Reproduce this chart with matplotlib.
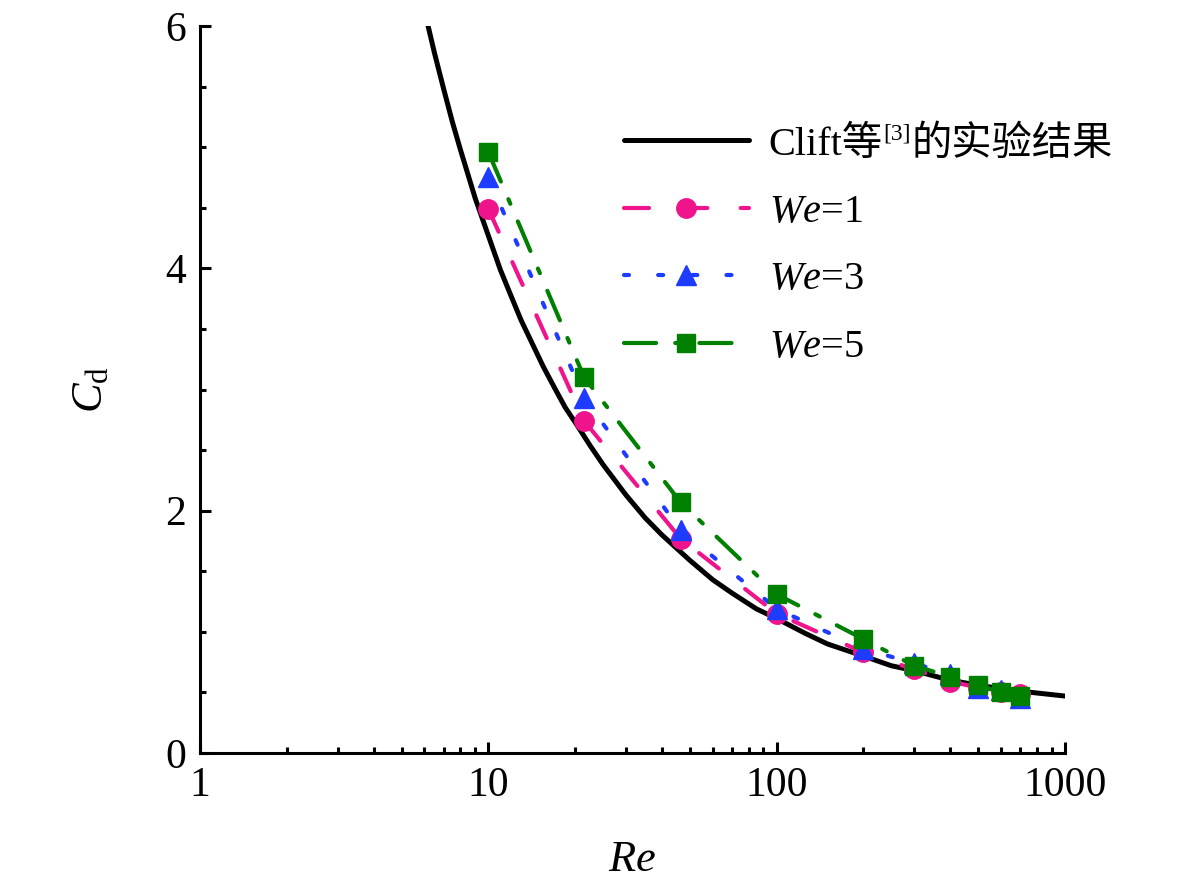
import matplotlib
matplotlib.use("Agg")
import matplotlib.pyplot as plt
from matplotlib.ticker import FixedLocator, NullFormatter, MultipleLocator
from matplotlib.lines import Line2D

# ---- data ----
re_clift = [6.0, 6.5, 7, 7.5, 8, 9, 10, 11, 12, 13, 14, 15.5, 17, 18.5, 20, 22.5, 25, 30, 35, 40,
            50, 60, 70, 85, 100, 125, 150, 200, 250, 300, 400, 500, 600, 700, 1000]
cd_clift = [6.13, 5.78, 5.48, 5.21, 4.98, 4.58, 4.27, 3.99, 3.77, 3.57, 3.41, 3.19, 3.01, 2.85, 2.73,
            2.54, 2.38, 2.13, 1.94, 1.80, 1.59, 1.43, 1.32, 1.19, 1.11, 0.99, 0.90, 0.80, 0.72, 0.68,
            0.60, 0.56, 0.53, 0.51, 0.47]

re_sim = [10, 21.5, 46.4, 100, 200, 300, 400, 500, 600, 700]
cd_we1 = [4.49, 2.74, 1.77, 1.15, 0.83, 0.69, 0.59, 0.54, 0.50, 0.49]
cd_we3 = [4.75, 2.93, 1.84, 1.19, 0.86, 0.74, 0.65, 0.54, 0.52, 0.45]
cd_we5 = [4.96, 3.10, 2.07, 1.31, 0.94, 0.72, 0.63, 0.56, 0.50, 0.47]

x_ticks = [1, 10, 100, 1000]
x_ticklabels = ["1", "10", "100", "1000"]
y_ticks = [0, 2, 4, 6]

FAM = ["Liberation Serif", "Noto Sans CJK SC"]
plt.rcParams["font.family"] = FAM
plt.rcParams["mathtext.fontset"] = "custom"
plt.rcParams["mathtext.rm"] = "Liberation Serif"
plt.rcParams["mathtext.it"] = "Liberation Serif:italic"

PINK, BLUE, GREEN = "#f0148c", "#1e3cff", "#008000"
LS1, LS3, LS5 = (0, (6, 8)), (0, (1.2, 7)), (0, (7.7, 4.6, 1.2, 4.6))

fig = plt.figure(figsize=(11.81, 8.86), dpi=100)
ax = fig.add_axes([200 / 1181, 133 / 886, 865 / 1181, 727 / 886])

ax.plot(re_clift, cd_clift, color="black", lw=3.6, solid_capstyle="round", solid_joinstyle="round", zorder=2)
ax.plot(re_sim, cd_we1, color=PINK, lw=3, linestyle=LS1, dash_capstyle="round",
        marker="o", markersize=14, zorder=3)
ax.plot(re_sim, cd_we3, color=BLUE, lw=3, linestyle=LS3, dash_capstyle="round",
        marker="^", markersize=15, zorder=4)
ax.plot(re_sim, cd_we5, color=GREEN, lw=3, linestyle=LS5, dash_capstyle="round",
        marker="s", markersize=13, zorder=5)

ax.set_xscale("log")
ax.set_xlim(1, 1000)
ax.set_ylim(0, 6)
ax.xaxis.set_major_locator(FixedLocator(x_ticks))
ax.set_xticklabels(x_ticklabels)
ax.xaxis.set_minor_locator(FixedLocator([m * d for d in (1, 10, 100) for m in range(2, 10)]))
ax.xaxis.set_minor_formatter(NullFormatter())
ax.set_yticks(y_ticks)
ax.yaxis.set_minor_locator(MultipleLocator(0.5))

for s in ("top", "right"):
    ax.spines[s].set_visible(False)
for s in ("left", "bottom"):
    ax.spines[s].set_linewidth(2.2)

ax.tick_params(which="major", direction="in", length=8, width=2.2, labelsize=30, pad=10)
ax.tick_params(which="minor", direction="in", length=4.5, width=2.2)

ax.set_xlabel(r"$\mathit{Re}$", fontsize=32, labelpad=25)
ax.set_ylabel(r"$\mathit{C}_{\mathrm{d}}$", fontsize=32, labelpad=39)

handles = [
    Line2D([], [], color="black", lw=3.6, solid_capstyle="round"),
    Line2D([], [], color=PINK, lw=3, linestyle=LS1, dash_capstyle="round", marker="o", markersize=14),
    Line2D([], [], color=BLUE, lw=3, linestyle=LS3, dash_capstyle="round", marker="^", markersize=15),
    Line2D([], [], color=GREEN, lw=3, linestyle=LS5, dash_capstyle="round", marker="s", markersize=13),
]
labels = ["Clift等", r"$\mathit{We}$=1", r"$\mathit{We}$=3", r"$\mathit{We}$=5"]
leg = ax.legend(handles, labels, loc="upper left", bbox_to_anchor=(0.49, 0.862), frameon=False,
                fontsize=29, handlelength=3.1, handletextpad=0.5, labelspacing=0.75,
                borderaxespad=0, borderpad=0, numpoints=1)

t0 = leg.get_texts()[0]
sup = ax.annotate("[3]", xy=(1, 0.52), xycoords=t0, xytext=(0.5, 0), textcoords="offset points",
                  fontsize=17, va="bottom", ha="left", family=FAM, zorder=10)
ax.annotate("的实验结果", xy=(1, 0), xycoords=(sup, t0), xytext=(0.5, 0), textcoords="offset points",
            fontsize=29, va="bottom", ha="left", family=FAM, zorder=11)

fig.savefig("out.png", dpi=100)
